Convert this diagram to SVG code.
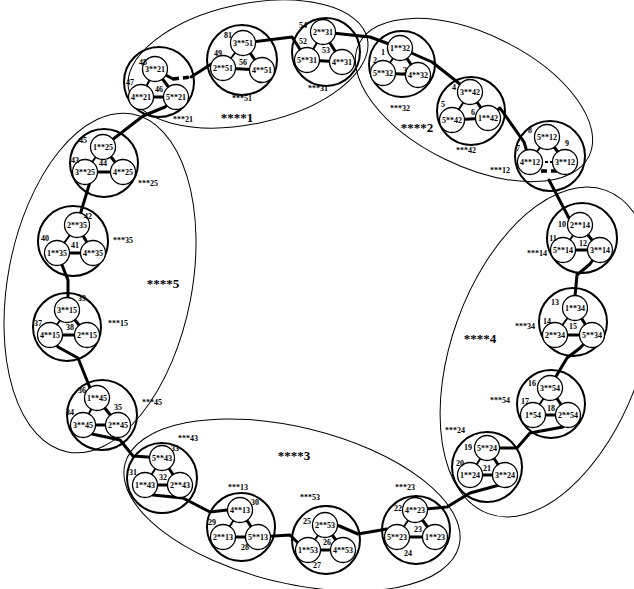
<svg xmlns="http://www.w3.org/2000/svg" width="634" height="589" viewBox="0 0 634 589">
<style>
.grp{fill:none;stroke:#000;stroke-width:1}
.big{fill:none;stroke:#000;stroke-width:2}
.sm{fill:#fff;stroke:#000;stroke-width:1.3}
.c{fill:none;stroke:#000;stroke-width:3;stroke-linejoin:round;stroke-linecap:round}
.i{stroke:#000;stroke-width:2}
.ib{stroke:#000;stroke-width:3}
.d{stroke:#000;stroke-width:3.5;stroke-dasharray:6 4}
text{font-family:"Liberation Serif","Times New Roman",serif;font-weight:bold;fill:#000;text-anchor:middle;dominant-baseline:central}
.t{font-size:8px}
.n{font-size:8px}
.g{font-size:13px}
</style>
<rect width="634" height="589" fill="#fff"/>
<g id="groups">
<ellipse class="grp" cx="248" cy="64" rx="122" ry="60" transform="rotate(-12 248 64)"/>
<ellipse class="grp" cx="474" cy="100" rx="128" ry="66" transform="rotate(26 474 100)"/>
<ellipse class="grp" cx="547" cy="352" rx="172" ry="95" transform="rotate(110 547 352)"/>
<ellipse class="grp" cx="292" cy="505" rx="172" ry="78" transform="rotate(13.7 292 505)"/>
<ellipse class="grp" cx="100" cy="283" rx="172" ry="92" transform="rotate(100.9 100 283)"/>
</g>
<g id="connectors">
<!-- inter-cluster -->
<polyline class="c" points="155,69 173,79"/>
<line class="d" x1="173" y1="79" x2="191" y2="77"/>
<polyline class="c" points="191,77 213,63 223,68"/>
<polyline class="c" points="243,43 292,37 307,60"/>
<polyline class="c" points="323,32 370,37 400,48"/>
<polyline class="c" points="400,48 432,62 470,92"/>
<polyline class="c" points="488,118 500,108 524,142 530,162"/>
<line class="d" x1="541" y1="171" x2="559" y2="171"/>
<polyline class="c" points="549,180 571,222 580,225"/>
<polyline class="c" points="600,250 590,264 577,275 575,296 575,308"/>
<polyline class="c" points="592,335 580,348 567,358 555,378 550,388"/>
<polyline class="c" points="568,415 563,427 530,433 517,448 487,448"/>
<polyline class="c" points="505,475 503,484 470,493 447,507 415,510"/>
<polyline class="c" points="397,537 387,529 358,534 337,525 325,525"/>
<polyline class="c" points="308,550 297,542 290,535 258,537"/>
<polyline class="c" points="240,510 227,510 210,512 183,498 153,495 145,485"/>
<polyline class="c" points="83,425 92,434 120,440 133,456 162,458"/>
<polyline class="c" points="50,335 58,347 78,358 90,388 97,398"/>
<polyline class="c" points="67,310 68,295 68,280 62,265 57,253"/>
<polyline class="c" points="77,225 80,215 90,182 85,172"/>
<polyline class="c" points="103,147 143,116 165,107 176,97"/>
<!-- internal -->
<line class="i" x1="155" y1="69" x2="141" y2="97"/><line class="ib" x1="155" y1="69" x2="176" y2="97"/><line class="ib" x1="141" y1="97" x2="176" y2="97"/>
<line class="i" x1="243" y1="43" x2="223" y2="68"/><line class="ib" x1="243" y1="43" x2="262" y2="70"/><line class="ib" x1="223" y1="68" x2="262" y2="70"/>
<line class="i" x1="323" y1="32" x2="307" y2="60"/><line class="ib" x1="323" y1="32" x2="342" y2="62"/><line class="ib" x1="307" y1="60" x2="342" y2="62"/>
<line class="i" x1="400" y1="48" x2="383" y2="73"/><line class="ib" x1="400" y1="48" x2="418" y2="75"/><line class="ib" x1="383" y1="73" x2="418" y2="75"/>
<line class="i" x1="470" y1="92" x2="452" y2="120"/><line class="ib" x1="470" y1="92" x2="488" y2="118"/><line class="ib" x1="452" y1="120" x2="488" y2="118"/>
<line class="i" x1="547" y1="137" x2="530" y2="162"/><line class="ib" x1="547" y1="137" x2="565" y2="162"/><line class="i" x1="530" y1="162" x2="565" y2="162" stroke-dasharray="3 2"/>
<line class="i" x1="580" y1="225" x2="563" y2="250"/><line class="ib" x1="580" y1="225" x2="600" y2="250"/><line class="ib" x1="563" y1="250" x2="600" y2="250"/>
<line class="i" x1="575" y1="308" x2="555" y2="335"/><line class="ib" x1="575" y1="308" x2="592" y2="335"/><line class="ib" x1="555" y1="335" x2="592" y2="335"/>
<line class="i" x1="550" y1="388" x2="533" y2="415"/><line class="ib" x1="550" y1="388" x2="568" y2="415"/><line class="ib" x1="533" y1="415" x2="568" y2="415"/>
<line class="i" x1="487" y1="448" x2="470" y2="475"/><line class="ib" x1="487" y1="448" x2="505" y2="475"/><line class="ib" x1="470" y1="475" x2="505" y2="475"/>
<line class="i" x1="415" y1="510" x2="397" y2="537"/><line class="ib" x1="415" y1="510" x2="435" y2="537"/><line class="ib" x1="397" y1="537" x2="435" y2="537"/>
<line class="i" x1="325" y1="525" x2="308" y2="550"/><line class="ib" x1="325" y1="525" x2="343" y2="550"/><line class="ib" x1="308" y1="550" x2="343" y2="550"/>
<line class="i" x1="240" y1="510" x2="223" y2="537"/><line class="ib" x1="240" y1="510" x2="258" y2="537"/><line class="ib" x1="223" y1="537" x2="258" y2="537"/>
<line class="i" x1="162" y1="458" x2="145" y2="485"/><line class="ib" x1="162" y1="458" x2="180" y2="485"/><line class="ib" x1="145" y1="485" x2="180" y2="485"/>
<line class="i" x1="97" y1="398" x2="83" y2="425"/><line class="ib" x1="97" y1="398" x2="118" y2="425"/><line class="ib" x1="83" y1="425" x2="118" y2="425"/>
<line class="i" x1="67" y1="310" x2="50" y2="335"/><line class="ib" x1="67" y1="310" x2="87" y2="335"/><line class="ib" x1="50" y1="335" x2="87" y2="335"/>
<line class="i" x1="77" y1="225" x2="57" y2="253"/><line class="ib" x1="77" y1="225" x2="93" y2="253"/><line class="ib" x1="57" y1="253" x2="93" y2="253"/>
<line class="i" x1="103" y1="147" x2="85" y2="172"/><line class="ib" x1="103" y1="147" x2="123" y2="172"/><line class="ib" x1="85" y1="172" x2="123" y2="172"/>
</g>
<g id="c21"><circle class="big" cx="159" cy="82" r="35"/>
<circle class="sm" cx="155" cy="69" r="12.5"/><text class="t" x="155" y="69">3**21</text>
<circle class="sm" cx="141" cy="97" r="12.5"/><text class="t" x="141" y="97">4**21</text>
<circle class="sm" cx="176" cy="97" r="12.5"/><text class="t" x="176" y="97">5**21</text>
<text class="n" x="143" y="62">48</text><text class="n" x="130" y="82">47</text><text class="n" x="159" y="89">46</text>
<text class="n" x="183" y="119">***21</text></g>
<g id="c51"><circle class="big" cx="242" cy="60" r="35"/>
<circle class="sm" cx="243" cy="43" r="12.5"/><text class="t" x="243" y="43">3**51</text>
<circle class="sm" cx="223" cy="68" r="12.5"/><text class="t" x="223" y="68">2**51</text>
<circle class="sm" cx="262" cy="70" r="12.5"/><text class="t" x="262" y="70">4**51</text>
<text class="n" x="228" y="35">81</text><text class="n" x="218" y="53">49</text><text class="n" x="243" y="62">56</text>
<text class="n" x="242" y="98">***51</text></g>
<g id="c31"><circle class="big" cx="326" cy="52" r="34"/>
<circle class="sm" cx="323" cy="32" r="12.5"/><text class="t" x="323" y="32">2**31</text>
<circle class="sm" cx="307" cy="60" r="12.5"/><text class="t" x="307" y="60">5**31</text>
<circle class="sm" cx="342" cy="62" r="12.5"/><text class="t" x="342" y="62">4**31</text>
<text class="n" x="303" y="25">54</text><text class="n" x="303" y="41">52</text><text class="n" x="326" y="50">53</text>
<text class="n" x="318" y="88">***31</text></g>
<g id="c32"><circle class="big" cx="402" cy="64" r="33"/>
<circle class="sm" cx="400" cy="48" r="12.5"/><text class="t" x="400" y="48">1**32</text>
<circle class="sm" cx="383" cy="73" r="12.5"/><text class="t" x="383" y="73">5**32</text>
<circle class="sm" cx="418" cy="75" r="12.5"/><text class="t" x="418" y="75">4**32</text>
<text class="n" x="383" y="52">1</text><text class="n" x="375" y="60">2</text><text class="n" x="405" y="70">3</text>
<text class="n" x="400" y="108">***32</text></g>
<g id="c42"><circle class="big" cx="471" cy="111" r="34"/>
<circle class="sm" cx="470" cy="92" r="12.5"/><text class="t" x="470" y="92">3**42</text>
<circle class="sm" cx="452" cy="120" r="12.5"/><text class="t" x="452" y="120">5**42</text>
<circle class="sm" cx="488" cy="118" r="12.5"/><text class="t" x="488" y="118">1**42</text>
<text class="n" x="454" y="87">4</text><text class="n" x="443" y="104">5</text><text class="n" x="473" y="112">6</text>
<text class="n" x="466" y="150">***42</text></g>
<g id="c12"><circle class="big" cx="550" cy="156" r="35"/>
<circle class="sm" cx="547" cy="137" r="12.5"/><text class="t" x="547" y="137">5**12</text>
<circle class="sm" cx="530" cy="162" r="12.5"/><text class="t" x="530" y="162">4**12</text>
<circle class="sm" cx="565" cy="162" r="12.5"/><text class="t" x="565" y="162">3**12</text>
<text class="n" x="530" y="130">8</text><text class="n" x="518" y="148">7</text><text class="n" x="567" y="143">9</text>
<text class="n" x="500" y="170">***12</text></g>
<g id="c14"><circle class="big" cx="582" cy="238" r="35"/>
<circle class="sm" cx="580" cy="225" r="12.5"/><text class="t" x="580" y="225">2**14</text>
<circle class="sm" cx="563" cy="250" r="12.5"/><text class="t" x="563" y="250">5**14</text>
<circle class="sm" cx="600" cy="250" r="12.5"/><text class="t" x="600" y="250">3**14</text>
<text class="n" x="562" y="224">10</text><text class="n" x="553" y="238">11</text><text class="n" x="583" y="243">12</text>
<text class="n" x="537" y="253">***14</text></g>
<g id="c34"><circle class="big" cx="573" cy="322" r="34"/>
<circle class="sm" cx="575" cy="308" r="12.5"/><text class="t" x="575" y="308">1**34</text>
<circle class="sm" cx="555" cy="335" r="12.5"/><text class="t" x="555" y="335">2**34</text>
<circle class="sm" cx="592" cy="335" r="12.5"/><text class="t" x="592" y="335">5**34</text>
<text class="n" x="555" y="302">13</text><text class="n" x="547" y="321">14</text><text class="n" x="573" y="326">15</text>
<text class="n" x="525" y="326">***34</text></g>
<g id="c54"><circle class="big" cx="551" cy="404" r="34"/>
<circle class="sm" cx="550" cy="388" r="12.5"/><text class="t" x="550" y="388">3**54</text>
<circle class="sm" cx="533" cy="415" r="12.5"/><text class="t" x="533" y="415">1*54</text>
<circle class="sm" cx="568" cy="415" r="12.5"/><text class="t" x="568" y="415">2**54</text>
<text class="n" x="532" y="383">16</text><text class="n" x="525" y="401">17</text><text class="n" x="551" y="408">18</text>
<text class="n" x="500" y="400">***54</text></g>
<g id="c24"><circle class="big" cx="487" cy="467" r="35"/>
<circle class="sm" cx="487" cy="448" r="12.5"/><text class="t" x="487" y="448">5**24</text>
<circle class="sm" cx="470" cy="475" r="12.5"/><text class="t" x="470" y="475">1**24</text>
<circle class="sm" cx="505" cy="475" r="12.5"/><text class="t" x="505" y="475">3**24</text>
<text class="n" x="468" y="447">19</text><text class="n" x="460" y="463">20</text><text class="n" x="487" y="468">21</text>
<text class="n" x="455" y="430">***24</text></g>
<g id="c23"><circle class="big" cx="416" cy="530" r="34"/>
<circle class="sm" cx="415" cy="510" r="12.5"/><text class="t" x="415" y="510">4**23</text>
<circle class="sm" cx="397" cy="537" r="12.5"/><text class="t" x="397" y="537">5**23</text>
<circle class="sm" cx="435" cy="537" r="12.5"/><text class="t" x="435" y="537">1**23</text>
<text class="n" x="398" y="508">22</text><text class="n" x="418" y="529">23</text><text class="n" x="408" y="553">24</text>
<text class="n" x="405" y="487">***23</text></g>
<g id="c53"><circle class="big" cx="326" cy="540" r="34"/>
<circle class="sm" cx="325" cy="525" r="12.5"/><text class="t" x="325" y="525">2**53</text>
<circle class="sm" cx="308" cy="550" r="12.5"/><text class="t" x="308" y="550">1**53</text>
<circle class="sm" cx="343" cy="550" r="12.5"/><text class="t" x="343" y="550">4**53</text>
<text class="n" x="307" y="521">25</text><text class="n" x="327" y="542">26</text><text class="n" x="317" y="565">27</text>
<text class="n" x="310" y="497">***53</text></g>
<g id="c13"><circle class="big" cx="241" cy="527" r="34"/>
<circle class="sm" cx="240" cy="510" r="12.5"/><text class="t" x="240" y="510">4**13</text>
<circle class="sm" cx="223" cy="537" r="12.5"/><text class="t" x="223" y="537">2**13</text>
<circle class="sm" cx="258" cy="537" r="12.5"/><text class="t" x="258" y="537">5**13</text>
<text class="n" x="255" y="502">30</text><text class="n" x="212" y="522">29</text><text class="n" x="245" y="547">28</text>
<text class="n" x="238" y="487">***13</text></g>
<g id="c43"><circle class="big" cx="162" cy="478" r="35"/>
<circle class="sm" cx="162" cy="458" r="12.5"/><text class="t" x="162" y="458">5**43</text>
<circle class="sm" cx="145" cy="485" r="12.5"/><text class="t" x="145" y="485">1**43</text>
<circle class="sm" cx="180" cy="485" r="12.5"/><text class="t" x="180" y="485">2**43</text>
<text class="n" x="175" y="448">33</text><text class="n" x="133" y="472">31</text><text class="n" x="163" y="477">32</text>
<text class="n" x="188" y="438">***43</text></g>
<g id="c45"><circle class="big" cx="102" cy="415" r="35"/>
<circle class="sm" cx="97" cy="398" r="12.5"/><text class="t" x="97" y="398">1**45</text>
<circle class="sm" cx="83" cy="425" r="12.5"/><text class="t" x="83" y="425">3**45</text>
<circle class="sm" cx="118" cy="425" r="12.5"/><text class="t" x="118" y="425">2**45</text>
<text class="n" x="82" y="390">36</text><text class="n" x="70" y="412">34</text><text class="n" x="118" y="407">35</text>
<text class="n" x="152" y="402">***45</text></g>
<g id="c15"><circle class="big" cx="67" cy="327" r="34"/>
<circle class="sm" cx="67" cy="310" r="12.5"/><text class="t" x="67" y="310">3**15</text>
<circle class="sm" cx="50" cy="335" r="12.5"/><text class="t" x="50" y="335">4**15</text>
<circle class="sm" cx="87" cy="335" r="12.5"/><text class="t" x="87" y="335">2**15</text>
<text class="n" x="82" y="298">39</text><text class="n" x="38" y="323">37</text><text class="n" x="70" y="327">38</text>
<text class="n" x="118" y="323">***15</text></g>
<g id="c35"><circle class="big" cx="73" cy="241" r="35"/>
<circle class="sm" cx="77" cy="225" r="12.5"/><text class="t" x="77" y="225">2**35</text>
<circle class="sm" cx="57" cy="253" r="12.5"/><text class="t" x="57" y="253">1**35</text>
<circle class="sm" cx="93" cy="253" r="12.5"/><text class="t" x="93" y="253">4**35</text>
<text class="n" x="88" y="216">42</text><text class="n" x="45" y="238">40</text><text class="n" x="75" y="245">41</text>
<text class="n" x="123" y="240">***35</text></g>
<g id="c25"><circle class="big" cx="104" cy="163" r="34"/>
<circle class="sm" cx="103" cy="147" r="12.5"/><text class="t" x="103" y="147">1**25</text>
<circle class="sm" cx="85" cy="172" r="12.5"/><text class="t" x="85" y="172">3**25</text>
<circle class="sm" cx="123" cy="172" r="12.5"/><text class="t" x="123" y="172">4**25</text>
<text class="n" x="83" y="140">45</text><text class="n" x="75" y="160">43</text><text class="n" x="103" y="163">44</text>
<text class="n" x="148" y="183">***25</text></g>
<g id="labels">
<text class="g" x="237" y="117">****1</text>
<text class="g" x="417" y="127">****2</text>
<text class="g" x="294" y="455">****3</text>
<text class="g" x="480" y="338">****4</text>
<text class="g" x="163" y="283">****5</text>
</g>
</svg>
